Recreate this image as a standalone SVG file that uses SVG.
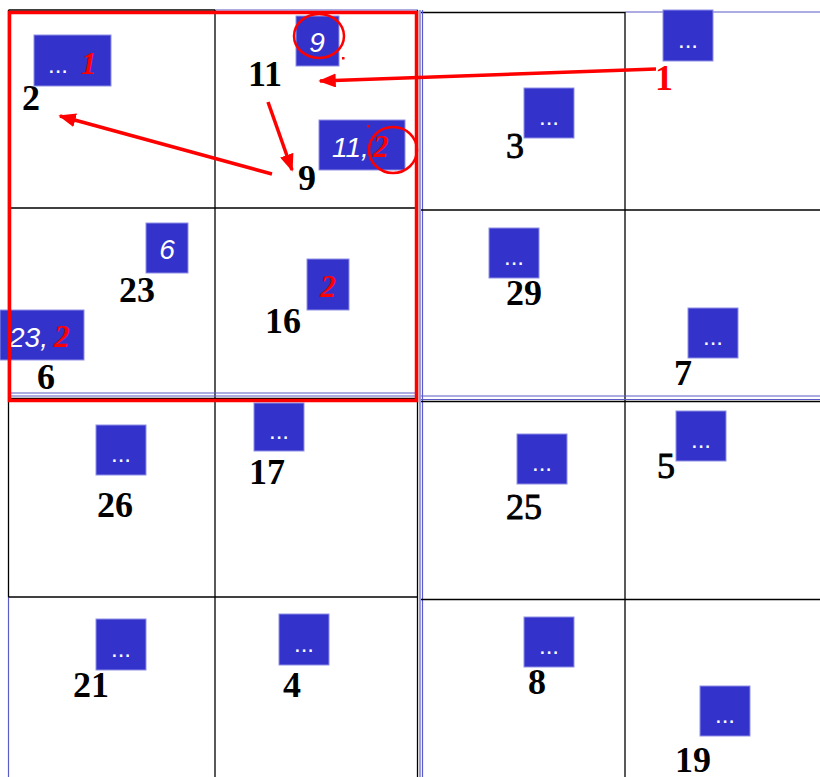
<svg xmlns="http://www.w3.org/2000/svg" width="820" height="777" viewBox="0 0 820 777">
<style>
.gk{stroke:#000;stroke-width:1.3;fill:none}
.gb{stroke:#5a5ac8;stroke-width:1.2;fill:none}
.box{fill:#3333cc;stroke:#8f8fe6;stroke-width:1}
.dots{font-family:"Liberation Sans",Arial,sans-serif;font-size:24px;fill:#fff;text-anchor:middle}
.lbl{font-family:"Liberation Serif","Times New Roman",serif;font-size:36px;font-weight:bold;fill:#000}
.lbn{font-family:"Liberation Serif","Times New Roman",serif;font-size:36px;fill:#000;stroke:#000;stroke-width:0.9}
.wi{font-family:"Liberation Sans",Arial,sans-serif;font-style:italic;font-size:28px;fill:#fff}
.ri{font-family:"Liberation Serif","Times New Roman",serif;font-style:italic;font-weight:bold;font-size:31px;fill:#ff0000}
.rl{font-family:"Liberation Serif","Times New Roman",serif;font-weight:bold;font-size:36px;fill:#ff0000}
.arr{stroke:#ff0000;stroke-width:3.5;fill:none;marker-end:url(#ah)}
.ring{stroke:#ff0000;stroke-width:2.5;fill:none}
</style>
<defs>
<marker id="ah" markerWidth="5" markerHeight="4" refX="4.5" refY="2" orient="auto" markerUnits="strokeWidth">
<path d="M0,0 L5,2 L0,4 Z" fill="#ff0000"/>
</marker>
</defs>
<rect width="820" height="777" fill="#fff"/>
<g id="grid">
<line class="gk" x1="8.5" y1="10" x2="215" y2="10"/>
<line class="gb" x1="215" y1="10" x2="418" y2="10"/>
<line class="gk" x1="8.5" y1="10" x2="8.5" y2="597"/>
<line class="gb" x1="8.5" y1="597" x2="8.5" y2="777"/>
<line class="gk" x1="215" y1="10" x2="215" y2="777"/>
<line class="gk" x1="417.5" y1="10" x2="417.5" y2="777"/>
<line class="gk" x1="8.5" y1="208" x2="417.5" y2="208"/>
<line class="gb" x1="8.5" y1="393" x2="417.5" y2="393"/>
<line class="gb" x1="8.5" y1="396" x2="417.5" y2="396"/>
<line class="gk" x1="8.5" y1="398.5" x2="417.5" y2="398.5"/>
<line class="gk" x1="8.5" y1="597" x2="417.5" y2="597"/>
<line class="gk" x1="421" y1="12.5" x2="625" y2="12.5"/>
<line class="gb" x1="625" y1="12" x2="820" y2="12"/>
<line class="gb" x1="420" y1="10" x2="420" y2="777"/>
<line class="gb" x1="422.5" y1="10" x2="422.5" y2="777"/>
<line class="gk" x1="625" y1="12" x2="625" y2="777"/>
<line class="gk" x1="421" y1="210" x2="820" y2="210"/>
<line class="gb" x1="421" y1="396" x2="820" y2="396"/>
<line class="gb" x1="421" y1="399.5" x2="820" y2="399.5"/>
<line class="gk" x1="421" y1="401.5" x2="820" y2="401.5"/>
<line class="gk" x1="421" y1="599.5" x2="820" y2="599.5"/>
</g>
<g id="node-2">
<rect class="box" x="34" y="35" width="77" height="51"/>
<text class="dots" x="58" y="73">...</text>
<text class="ri" x="81" y="74">1</text>
<text class="lbl" x="22" y="110">2</text>
</g>
<g id="node-11">
<rect class="box" x="296" y="16" width="43" height="50"/>
<text class="wi" x="317" y="52" text-anchor="middle">9</text>
<ellipse class="ring" cx="319" cy="36" rx="25" ry="22"/>
<rect x="342" y="57" width="2.5" height="2.5" fill="#ff0000"/>
<text class="lbl" x="248" y="86">11</text>
</g>
<g id="node-9">
<rect class="box" x="319" y="120" width="86" height="50"/>
<text class="wi" x="332" y="157">11,</text>
<text class="ri" x="373" y="157">2</text>
<ellipse class="ring" cx="393" cy="150" rx="24" ry="23"/>
<rect x="367" y="125" width="2.5" height="2.5" fill="#ff0000"/>
<text class="lbl" x="298" y="190">9</text>
</g>
<g id="node-3">
<rect class="box" x="524" y="88" width="50" height="50"/>
<text class="dots" x="549" y="125">...</text>
<text class="lbn" x="506" y="158">3</text>
</g>
<g id="node-1">
<rect class="box" x="663" y="10" width="50" height="51"/>
<text class="dots" x="688" y="48">...</text>
<text class="rl" x="655" y="90">1</text>
</g>
<g id="node-23">
<rect class="box" x="146" y="223" width="42" height="50"/>
<text class="wi" x="167" y="259" text-anchor="middle">6</text>
<text class="lbl" x="119" y="302">23</text>
</g>
<g id="node-6">
<rect class="box" x="0" y="310" width="84" height="50"/>
<text class="wi" x="9" y="347">23,</text>
<text class="ri" x="54" y="347">2</text>
<text class="lbl" x="37" y="389">6</text>
</g>
<g id="node-16">
<rect class="box" x="307" y="259" width="42" height="51"/>
<text class="ri" x="328" y="297" text-anchor="middle">2</text>
<text class="lbl" x="265" y="333">16</text>
</g>
<g id="node-29">
<rect class="box" x="489" y="228" width="50" height="50"/>
<text class="dots" x="514" y="265">...</text>
<text class="lbl" x="506" y="305">29</text>
</g>
<g id="node-7">
<rect class="box" x="688" y="308" width="50" height="50"/>
<text class="dots" x="713" y="345">...</text>
<text class="lbl" x="674" y="385">7</text>
</g>
<g id="node-26">
<rect class="box" x="96" y="425" width="50" height="50"/>
<text class="dots" x="121" y="462">...</text>
<text class="lbl" x="97" y="517">26</text>
</g>
<g id="node-17">
<rect class="box" x="254" y="403" width="50" height="48"/>
<text class="dots" x="279" y="439">...</text>
<text class="lbl" x="249" y="484">17</text>
</g>
<g id="node-25">
<rect class="box" x="517" y="434" width="50" height="50"/>
<text class="dots" x="542" y="471">...</text>
<text class="lbn" x="506" y="519">25</text>
</g>
<g id="node-5">
<rect class="box" x="676" y="411" width="50" height="50"/>
<text class="dots" x="701" y="448">...</text>
<text class="lbn" x="657" y="478">5</text>
</g>
<g id="node-21">
<rect class="box" x="96" y="619" width="50" height="51"/>
<text class="dots" x="121" y="657">...</text>
<text class="lbl" x="73" y="697">21</text>
</g>
<g id="node-4">
<rect class="box" x="279" y="614" width="50" height="51"/>
<text class="dots" x="304" y="652">...</text>
<text class="lbl" x="283" y="697">4</text>
</g>
<g id="node-8">
<rect class="box" x="524" y="617" width="50" height="50"/>
<text class="dots" x="549" y="654">...</text>
<text class="lbl" x="528" y="694">8</text>
</g>
<g id="node-19">
<rect class="box" x="700" y="686" width="50" height="50"/>
<text class="dots" x="725" y="723">...</text>
<text class="lbl" x="675" y="772">19</text>
</g>
<g id="highlight">
<rect x="9.5" y="12.5" width="407" height="388" fill="none" stroke="#ff0000" stroke-width="3.5"/>
</g>
<g id="connectors">
<line class="arr" x1="656" y1="69" x2="320" y2="81"/>
<line class="arr" x1="268" y1="102" x2="292" y2="170"/>
<line class="arr" x1="272" y1="174" x2="60" y2="116"/>
</g>
</svg>
